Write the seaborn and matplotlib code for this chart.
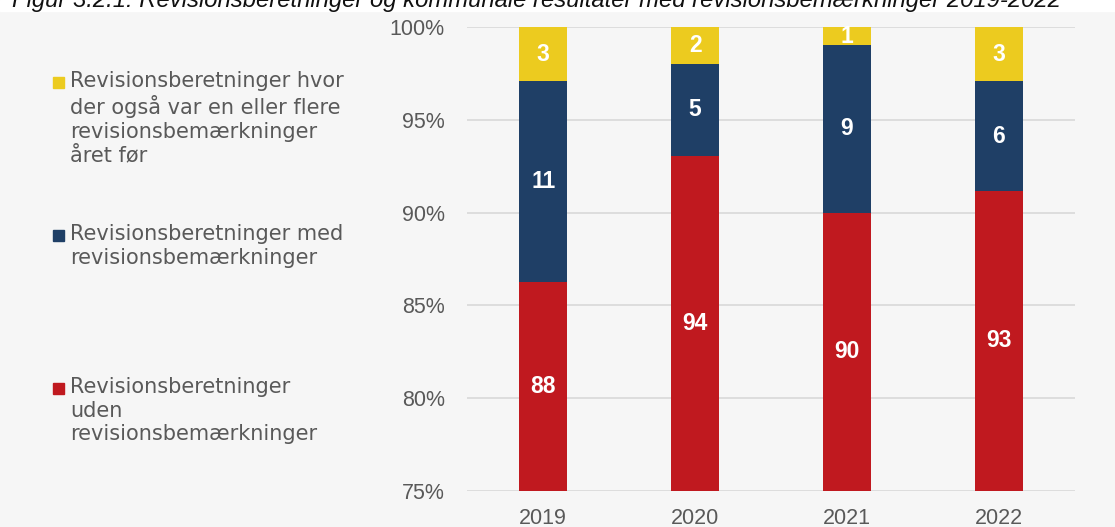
import matplotlib
matplotlib.use("Agg")
import matplotlib.pyplot as plt
from matplotlib.patches import Rectangle
from matplotlib.ticker import PercentFormatter
import seaborn as sns
import pandas as pd
import numpy as np

years = ["2019", "2020", "2021", "2022"]
uden = [88, 94, 90, 93]
med = [11, 5, 9, 6]
aaret_foer = [3, 2, 1, 3]

series_names = [
    "Revisionsberetninger\nuden\nrevisionsbemærkninger",
    "Revisionsberetninger med\nrevisionsbemærkninger",
    "Revisionsberetninger hvor\nder også var en eller flere\nrevisionsbemærkninger\nåret før",
]
colors = ["#C0191F", "#1F3F66", "#ECCB1F"]
title = "Figur 3.2.1: Revisionsberetninger og kommunale resultater med revisionsbemærkninger 2019-2022"

sns.set_theme(style="white")
plt.rcParams["font.family"] = ["Liberation Sans", "DejaVu Sans"]

df = pd.DataFrame({"year": years, "uden": uden, "med": med, "foer": aaret_foer})
total = df[["uden", "med", "foer"]].sum(axis=1)
df["c1"] = df["uden"] / total
df["c2"] = (df["uden"] + df["med"]) / total
df["c3"] = (df["uden"] + df["med"] + df["foer"]) / total

bg = "#f6f6f6"
fig = plt.figure(figsize=(11.15, 5.27), dpi=100, facecolor=bg)
ax = fig.add_axes([0.419, 0.0683, 0.545, 0.8807])
ax.set_facecolor(bg)

w = 0.32
# draw cumulative layers top-down so they overlay into a stack
for col, c in zip(["c3", "c2", "c1"], colors[::-1]):
    sns.barplot(data=df, x="year", y=col, color=c, width=w, ax=ax,
                saturation=1, edgecolor="none", linewidth=0, zorder=3)

ymin, ymax = 0.75, 1.0
ax.set_ylim(ymin, ymax)
ax.set_yticks(np.arange(0.75, 1.001, 0.05))
ax.yaxis.set_major_formatter(PercentFormatter(1.0, decimals=0))
ax.grid(axis="y", color="#d9d9d9", linewidth=1.2, zorder=0)
ax.grid(axis="x", visible=False)
for s in ax.spines.values():
    s.set_visible(False)
ax.set_xlabel("")
ax.set_ylabel("")
ax.tick_params(axis="both", length=0, labelsize=15.5, colors="#595959")
ax.tick_params(axis="y", pad=16)
ax.tick_params(axis="x", pad=12)

# segment labels
for i in range(len(years)):
    lows = [0, df["c1"][i], df["c2"][i]]
    highs = [df["c1"][i], df["c2"][i], df["c3"][i]]
    vals = [uden[i], med[i], aaret_foer[i]]
    for lo, hi, v in zip(lows, highs, vals):
        mid = (max(lo, ymin) + min(hi, ymax)) / 2
        ax.text(i, mid, str(v), ha="center", va="center", color="white",
                fontsize=16.5, fontweight="bold", zorder=5)

# legend, placed manually at left (square centre y, text top y in px)
legend_pos = [(82, 71, 2), (235, 224, 1), (388, 377, 0)]
for sq, top, k in legend_pos:
    fig.patches.append(Rectangle((53 / 1115, 1 - (sq + 5.5) / 527), 11 / 1115, 11 / 527,
                                 transform=fig.transFigure, color=colors[k],
                                 figure=fig))
    fig.text(70 / 1115, 1 - top / 527, series_names[k], ha="left", va="top",
             fontsize=15, color="#595959", linespacing=1.22,
             family="DejaVu Sans")

# white band behind the (cropped) caption
fig.patches.append(Rectangle((0, 1 - 11 / 527), 1, 11 / 527, transform=fig.transFigure,
                             color="white", figure=fig, zorder=0))
fig.text(12 / 1115, 1 - 7 / 527, title, ha="left", va="baseline",
         fontsize=17.2, style="italic", color="#111111")

fig.savefig("out.png", dpi=100, facecolor=bg)
